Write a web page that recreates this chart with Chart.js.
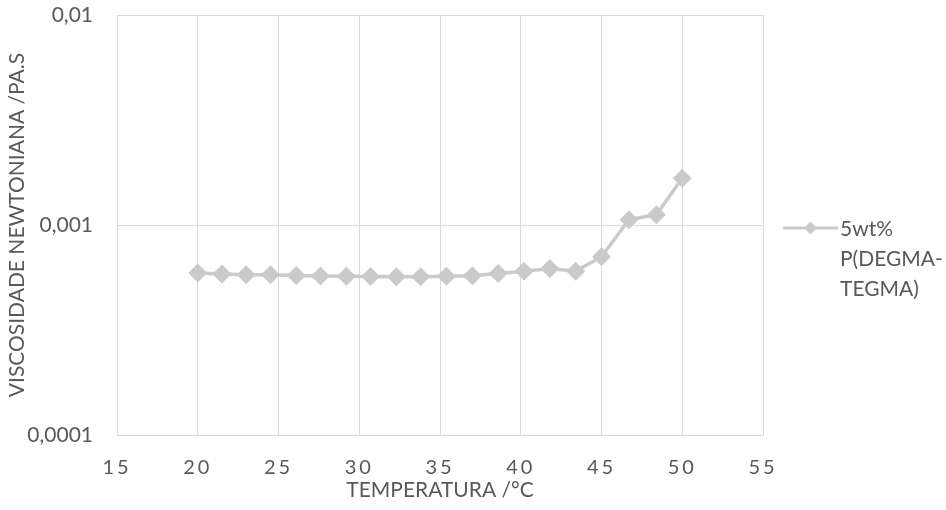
<!DOCTYPE html>
<html>
<head>
<meta charset="utf-8">
<script src="https://cdn.jsdelivr.net/npm/chart.js@4/dist/chart.umd.min.js"></script>
<style>
  html, body { margin: 0; padding: 0; background: #fff; }
  #wrap { width: 946px; height: 510px; }
</style>
</head>
<body>
<div id="wrap"><canvas id="viscChart"></canvas></div>
<script>
// temperature (°C) and newtonian viscosity (Pa.s)
const temperatures = [20, 21.5, 23, 24.5, 26.1, 27.6, 29.2, 30.7, 32.3, 33.8,
                      35.4, 37, 38.6, 40.2, 41.8, 43.4, 45, 46.7, 48.4, 50];
const viscosity = [0.00059, 0.000585, 0.00058, 0.00058, 0.000575, 0.000572, 0.00057, 0.000568, 0.000567, 0.000567,
                   0.00057, 0.000573, 0.000587, 0.000603, 0.00062, 0.000603, 0.000706, 0.00106, 0.00112, 0.00167];
const seriesLabel = ["5wt%", "P(DEGMA-", "TEGMA)"];
const yTicks = [0.0001, 0.001, 0.01];

const gray = "#595959";
const gridGray = "#d9d9d9";
const lineGray = "#c9cacc";
const fontFamily = "Lato, 'Open Sans', sans-serif";

// legend drawn by hand so the label can wrap over three lines
const sideLegend = {
  id: "sideLegend",
  afterLayout(chart) {
    // spaced-out digits on the temperature axis
    const xs = chart.scales.x;
    if (xs._spaced) return;
    const orig = xs.drawLabels;
    xs.drawLabels = function (area) {
      const ctx = this.ctx;
      ctx.save();
      ctx.letterSpacing = "3px";
      orig.call(this, area);
      ctx.restore();
    };
    xs._spaced = true;
  },
  afterDraw(chart) {
    const { ctx, chartArea } = chart;
    const x0 = chartArea.right + 20;
    const x1 = x0 + 55;
    const y0 = (chartArea.top + chartArea.bottom) / 2 + 3;
    ctx.save();
    ctx.strokeStyle = lineGray;
    ctx.lineWidth = 3;
    ctx.beginPath();
    ctx.moveTo(x0, y0);
    ctx.lineTo(x1, y0);
    ctx.stroke();
    ctx.fillStyle = lineGray;
    const cx = (x0 + x1) / 2, r = 6.5;
    ctx.beginPath();
    ctx.moveTo(cx - r, y0);
    ctx.lineTo(cx, y0 - r);
    ctx.lineTo(cx + r, y0);
    ctx.lineTo(cx, y0 + r);
    ctx.closePath();
    ctx.fill();
    ctx.fillStyle = gray;
    ctx.font = "21px " + fontFamily;
    ctx.textAlign = "left";
    ctx.textBaseline = "middle";
    seriesLabel.forEach((t, i) => ctx.fillText(t, x1 + 2, y0 + 1 + i * 30));
    ctx.restore();
  }
};

document.addEventListener("DOMContentLoaded", () => {
  const ctx = document.getElementById("viscChart").getContext("2d");

  new Chart(ctx, {
    type: "line",
    data: {
      datasets: [
        {
          label: seriesLabel.join(" "),
          data: temperatures.map((t, i) => ({ x: t, y: viscosity[i] })),
          borderColor: lineGray,
          backgroundColor: lineGray,
          borderWidth: 3.5,
          pointStyle: "rectRot",
          pointRadius: 9.5,
          pointBorderWidth: 0,
          pointBackgroundColor: lineGray,
          tension: 0,
        },
      ],
    },
    options: {
      responsive: true,
      maintainAspectRatio: false,
      animation: false,
      layout: { padding: { top: 15, right: 183, left: 0, bottom: 0 } },
      plugins: {
        legend: { display: false },
        tooltip: { enabled: false },
      },
      scales: {
        x: {
          type: "linear",
          min: 15,
          max: 55,
          afterFit: (s) => { s.height = 75; s.paddingLeft = 0; s.paddingRight = 0; },
          grid: { color: gridGray, lineWidth: 1, drawTicks: false },
          border: { color: gridGray, width: 1 },
          ticks: {
            stepSize: 5,
            maxRotation: 0,
            padding: 21,
            color: gray,
            font: { family: fontFamily, size: 20 },
          },
          title: {
            display: true,
            text: "TEMPERATURA /°C",
            color: gray,
            font: { family: fontFamily, size: 21 },
            padding: { top: 0, bottom: 7 },
          },
        },
        y: {
          type: "logarithmic",
          min: 0.0001,
          max: 0.01,
          afterFit: (s) => { s.width = 117; s.paddingTop = 0; s.paddingBottom = 0; },
          afterBuildTicks: (s) => { s.ticks = yTicks.map((v) => ({ value: v })); },
          grid: { color: gridGray, lineWidth: 1, drawTicks: false },
          border: { color: gridGray, width: 1 },
          ticks: {
            padding: 24,
            color: gray,
            font: { family: fontFamily, size: 21 },
            callback: (v) => String(v).replace(".", ","),
          },
          title: {
            display: true,
            text: "VISCOSIDADE NEWTONIANA /PA.S",
            color: gray,
            font: { family: fontFamily, size: 21 },
            padding: { top: 5, bottom: 0 },
          },
        },
      },
    },
    plugins: [sideLegend],
  });
});
</script>
</body>
</html>
